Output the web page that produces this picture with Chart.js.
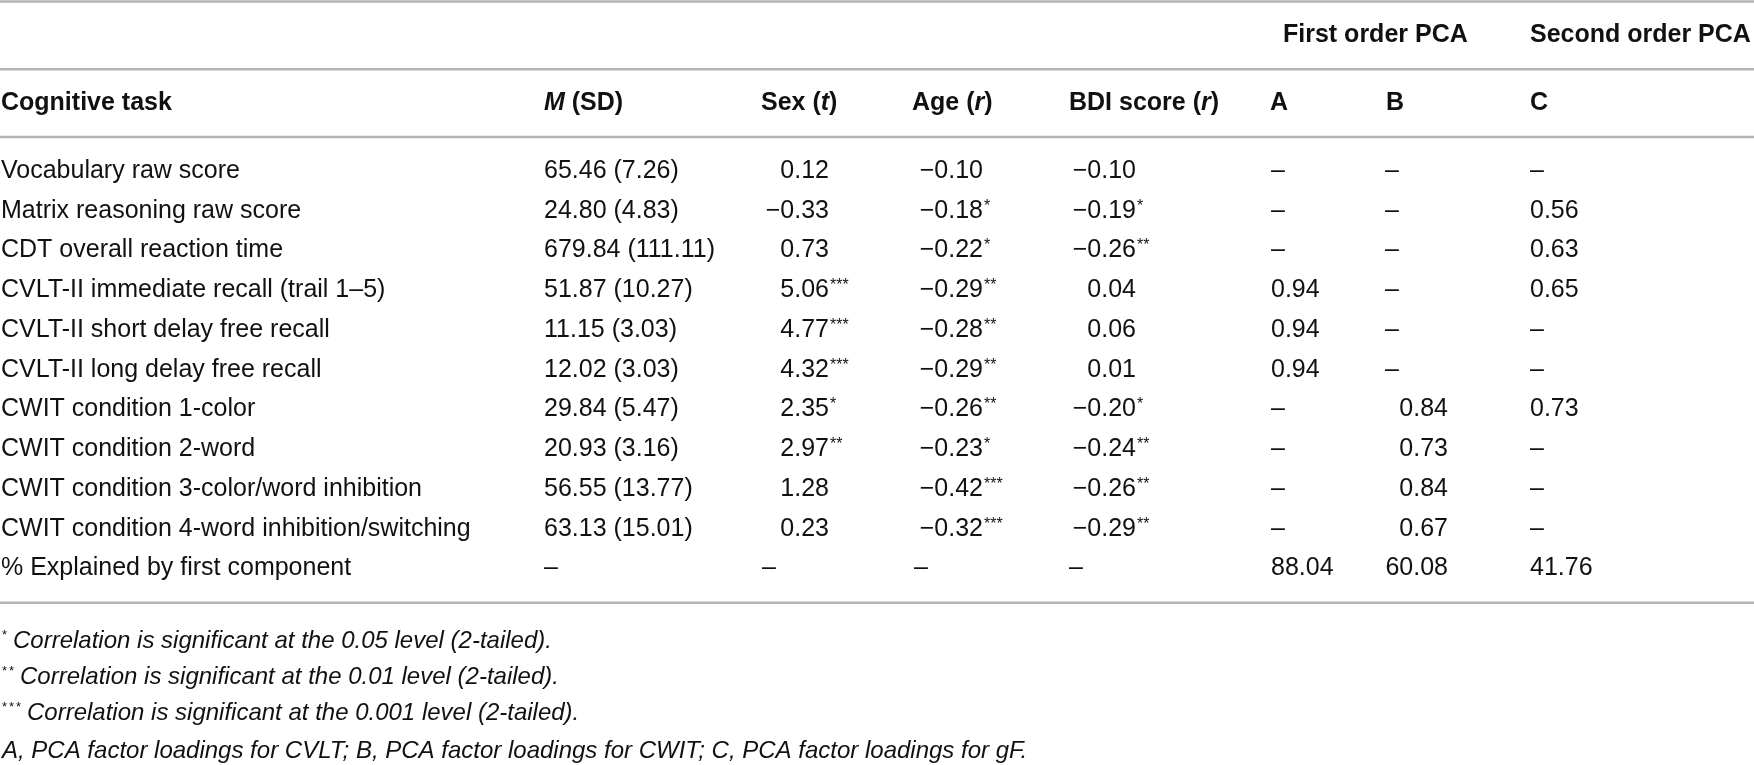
<!DOCTYPE html>
<html>
<head>
<meta charset="utf-8">
<script src="https://cdn.jsdelivr.net/npm/chart.js@4.4.1/dist/chart.umd.min.js"></script>
<style>
  html, body { margin: 0; padding: 0; background: #fff; }
  #wrap { width: 1754px; height: 765px; position: relative; }
</style>
</head>
<body>
<div id="wrap"><canvas id="tableChart"></canvas></div>
<script>
// table content
const tasks = [
    'Vocabulary raw score',
    'Matrix reasoning raw score',
    'CDT overall reaction time',
    'CVLT-II immediate recall (trail 1–5)',
    'CVLT-II short delay free recall',
    'CVLT-II long delay free recall',
    'CWIT condition 1-color',
    'CWIT condition 2-word',
    'CWIT condition 3-color/word inhibition',
    'CWIT condition 4-word inhibition/switching',
    '% Explained by first component'
];
const means = [65.46, 24.80, 679.84, 51.87, 11.15, 12.02, 29.84, 20.93, 56.55, 63.13, null];
const sds = [7.26, 4.83, 111.11, 10.27, 3.03, 3.03, 5.47, 3.16, 13.77, 15.01, null];
const sexT = [0.12, -0.33, 0.73, 5.06, 4.77, 4.32, 2.35, 2.97, 1.28, 0.23, null];
const sexStars = [0, 0, 0, 3, 3, 3, 1, 2, 0, 0, 0];
const ageR = [-0.10, -0.18, -0.22, -0.29, -0.28, -0.29, -0.26, -0.23, -0.42, -0.32, null];
const ageStars = [0, 1, 1, 2, 2, 2, 2, 1, 3, 3, 0];
const bdiR = [-0.10, -0.19, -0.26, 0.04, 0.06, 0.01, -0.20, -0.24, -0.26, -0.29, null];
const bdiStars = [0, 1, 2, 0, 0, 0, 1, 2, 2, 2, 0];
const loadA = [null, null, null, 0.94, 0.94, 0.94, null, null, null, null, 88.04];
const loadB = [null, null, null, null, null, null, 0.84, 0.73, 0.84, 0.67, 60.08];
const loadC = [null, 0.56, 0.63, 0.65, null, null, 0.73, null, null, null, 41.76];

const footnotes = [
    { stars: 1, text: 'Correlation is significant at the 0.05 level (2-tailed).' },
    { stars: 2, text: 'Correlation is significant at the 0.01 level (2-tailed).' },
    { stars: 3, text: 'Correlation is significant at the 0.001 level (2-tailed).' },
    { stars: 0, text: 'A, PCA factor loadings for CVLT; B, PCA factor loadings for CWIT; C, PCA factor loadings for gF.' }
];

// layout (x in page units, y in row units)
const FONT = '"Liberation Sans", Arial, sans-serif';
const SIZE = 25;
const INK = '#111';
const RULE = '#b4b4b4';
const ruleRows = [-4.21, -2.51, -0.80, 10.92];
const groupRow = -3.41;
const headRow = -1.70;
const noteRows = [11.83, 12.74, 13.65, 14.60];

function fmt(v) {
    if (v === null) return null;
    return (v < 0 ? '−' : '') + Math.abs(v).toFixed(2);
}

const columns = [
    { head: [{ t: 'Cognitive task' }], headX: 1, x: 1, align: 'left', dashX: 1,
      cell: i => [tasks[i], 0] },
    { head: [{ t: 'M', i: true }, { t: ' (SD)' }], headX: 544, x: 544, align: 'left', dashX: 544,
      cell: i => [means[i] === null ? null : means[i].toFixed(2) + ' (' + sds[i].toFixed(2) + ')', 0] },
    { head: [{ t: 'Sex (' }, { t: 't', i: true }, { t: ')' }], headX: 761, x: 829, align: 'right', dashX: 762,
      cell: i => [fmt(sexT[i]), sexStars[i]] },
    { head: [{ t: 'Age (' }, { t: 'r', i: true }, { t: ')' }], headX: 912, x: 983, align: 'right', dashX: 914,
      cell: i => [fmt(ageR[i]), ageStars[i]] },
    { head: [{ t: 'BDI score (' }, { t: 'r', i: true }, { t: ')' }], headX: 1069, x: 1136, align: 'right', dashX: 1069,
      cell: i => [fmt(bdiR[i]), bdiStars[i]] },
    { head: [{ t: 'A' }], headX: 1270, x: 1271, align: 'left', dashX: 1271,
      cell: i => [fmt(loadA[i]), 0] },
    { head: [{ t: 'B' }], headX: 1386, x: 1448, align: 'right', dashX: 1385,
      cell: i => [fmt(loadB[i]), 0] },
    { head: [{ t: 'C' }], headX: 1530, x: 1530, align: 'left', dashX: 1530,
      cell: i => [fmt(loadC[i]), 0] }
];
const groups = [
    { t: 'First order PCA', x: 1283 },
    { t: 'Second order PCA', x: 1530 }
];

function font(size, bold, italic) {
    return (italic ? 'italic ' : '') + (bold ? 'bold ' : '') + size + 'px ' + FONT;
}

function drawSegs(ctx, segs, x, y, size, bold) {
    let cx = x;
    segs.forEach(s => {
        ctx.font = font(size, bold, s.i);
        ctx.fillText(s.t, cx, y);
        cx += ctx.measureText(s.t).width;
    });
    return cx;
}

const tablePlugin = {
    id: 'tableText',
    afterDatasetsDraw(chart) {
        const { ctx, scales: { x, y } } = chart;
        const cap = SIZE * 0.716 / 2;
        ctx.save();
        ctx.textBaseline = 'alphabetic';
        ctx.fillStyle = INK;

        // rules
        ctx.strokeStyle = RULE;
        ctx.lineWidth = 2.5;
        ruleRows.forEach(r => {
            const py = y.getPixelForValue(r);
            ctx.beginPath();
            ctx.moveTo(x.getPixelForValue(0), py);
            ctx.lineTo(x.getPixelForValue(1754), py);
            ctx.stroke();
        });

        // group headers and column headers
        groups.forEach(g => {
            drawSegs(ctx, [{ t: g.t }], x.getPixelForValue(g.x), y.getPixelForValue(groupRow) + cap, SIZE, true);
        });
        columns.forEach(c => {
            drawSegs(ctx, c.head, x.getPixelForValue(c.headX), y.getPixelForValue(headRow) + cap, SIZE, true);
        });

        // body cells, placed at each dataset point
        chart.data.datasets.forEach((ds, di) => {
            const col = columns[di];
            const meta = chart.getDatasetMeta(di);
            meta.data.forEach((pt, i) => {
                const [txt, stars] = col.cell(i);
                const by = pt.y + cap;
                ctx.font = font(SIZE, false, false);
                if (txt === null) {
                    ctx.fillText('–', x.getPixelForValue(col.dashX), by);
                    return;
                }
                const w = ctx.measureText(txt).width;
                const left = col.align === 'right' ? pt.x - w : pt.x;
                ctx.fillText(txt, left, by);
                if (stars) {
                    ctx.font = font(16, false, false);
                    ctx.fillText('*'.repeat(stars), left + w + 1, by - 7);
                }
            });
        });

        // footnotes
        footnotes.forEach((n, k) => {
            const by = y.getPixelForValue(noteRows[k]) + 24 * 0.716 / 2;
            let tx = x.getPixelForValue(2);
            if (n.stars) {
                ctx.font = font(13, false, false);
                for (let s = 0; s < n.stars; s++) {
                    ctx.fillText('*', tx, by - 9);
                    tx += 7;
                }
                tx += 4;
            }
            ctx.font = font(24, false, true);
            ctx.fillText(n.text, tx, by);
        });
        ctx.restore();
    }
};

const ctx = document.getElementById('tableChart').getContext('2d');
const tableChart = new Chart(ctx, {
    type: 'scatter',
    data: {
        datasets: columns.map(c => ({
            data: tasks.map((t, i) => ({ x: c.x, y: i })),
            pointRadius: 0,
            pointHoverRadius: 0
        }))
    },
    options: {
        responsive: true,
        maintainAspectRatio: false,
        animation: false,
        layout: { padding: 0 },
        events: [],
        scales: {
            x: { type: 'linear', min: 0, max: 1754, display: false },
            y: { type: 'linear', min: -4.25, max: 15.0, reverse: true, display: false }
        },
        plugins: {
            legend: { display: false },
            tooltip: { enabled: false },
            title: { display: false }
        }
    },
    plugins: [tablePlugin]
});
</script>
</body>
</html>
